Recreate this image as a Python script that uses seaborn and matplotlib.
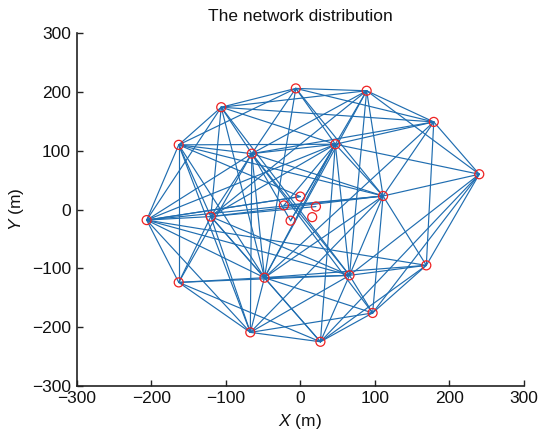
import matplotlib
matplotlib.use("Agg")
import matplotlib.pyplot as plt
import seaborn as sns
import pandas as pd

# Node coordinates (m)
node_x = [-6, 89, -106, 179, -163, -65, 47, 240, -206, -120, 111,
          0, -22, 21, -13, 16,
          -163, -48, 66, 169, -67, 97, 27]
node_y = [206, 202, 174, 149, 110, 95, 111, 60, -18, -12, 23,
          22, 7, 5, -19, -13,
          -124, -116, -112, -95, -209, -176, -225]

# Communication links between nodes (index pairs)
link_a = [0, 0, 0, 0, 0, 0, 0, 0,
          1, 1, 1, 1, 1, 1, 1, 1, 1,
          2, 2, 2, 2, 2, 2, 2, 2,
          3, 3, 3, 3, 3, 3,
          4, 4, 4, 4, 4, 4, 4, 4, 4,
          5, 5, 5, 5, 5, 5, 5, 5, 5, 5,
          6, 6, 6, 6, 6, 6, 6, 6, 6,
          7, 7, 7, 7, 7,
          8, 8, 8, 8, 8, 8, 8, 8,
          9, 9, 9, 9, 9, 9,
          10, 10, 10, 10, 10,
          16, 16, 16, 16,
          17, 17, 17, 17, 17,
          18, 18, 18, 18,
          19, 19,
          20, 20,
          21,
          11, 14, 12, 13]
link_b = [1, 2, 3, 5, 6, 4, 10, 17,
          2, 3, 5, 6, 7, 10, 18, 17, 9,
          4, 5, 6, 8, 9, 17, 3, 18,
          6, 7, 10, 19, 5, 17,
          5, 6, 8, 9, 16, 17, 20, 11, 10,
          6, 8, 9, 10, 16, 17, 20, 14, 18, 21,
          7, 10, 17, 18, 14, 12, 22, 8, 9,
          10, 18, 19, 21, 22,
          9, 10, 16, 17, 20, 19, 11, 18,
          10, 16, 17, 20, 18, 22,
          18, 19, 17, 21, 20,
          17, 20, 22, 18,
          18, 20, 22, 19, 21,
          19, 21, 22, 20,
          21, 22,
          21, 22,
          22,
          8, 6, 10, 9]

edges = pd.DataFrame({
    "link": [i for i in range(len(link_a)) for _ in (0, 1)],
    "x": [node_x[n] for a, b in zip(link_a, link_b) for n in (a, b)],
    "y": [node_y[n] for a, b in zip(link_a, link_b) for n in (a, b)],
})
nodes = pd.DataFrame({"x": node_x, "y": node_y})

sns.set_theme(style="ticks")
plt.rcParams["font.family"] = ["Liberation Sans", "DejaVu Sans"]
plt.rcParams["mathtext.fontset"] = "custom"
plt.rcParams["mathtext.it"] = "Liberation Sans:italic"
plt.rcParams["mathtext.rm"] = "Liberation Sans"
plt.rcParams["xtick.direction"] = "in"
plt.rcParams["ytick.direction"] = "in"

fig = plt.figure(figsize=(5.43, 4.42), dpi=100)
ax = fig.add_axes([0.141, 0.127, 0.824, 0.798])

sns.lineplot(data=edges, x="x", y="y", units="link", estimator=None, sort=False,
             color="#1f6db0", linewidth=0.85, ax=ax, legend=False)
sns.scatterplot(data=nodes, x="x", y="y", ax=ax, marker="o", s=42,
                facecolor="none", edgecolor="#ee2222", linewidth=0.9,
                zorder=5, legend=False)

ax.set_xlim(-300, 300)
ax.set_ylim(-300, 300)
ax.set_xticks(range(-300, 301, 100))
ax.set_yticks(range(-300, 301, 100))
ax.tick_params(labelsize=12.5, length=4, width=1.0, color="#222222",
               labelcolor="#111111", pad=4)
for s in ("left", "bottom"):
    ax.spines[s].set_linewidth(1.2)
    ax.spines[s].set_color("#222222")
sns.despine(ax=ax)

ax.set_title("The network distribution", fontsize=12.5, pad=9, color="#111111")
ax.set_xlabel("$X$ (m)", fontsize=12.5, labelpad=4, color="#111111")
ax.set_ylabel("$Y$ (m)", fontsize=12.5, labelpad=4, color="#111111")

fig.savefig("out.png", dpi=100)
